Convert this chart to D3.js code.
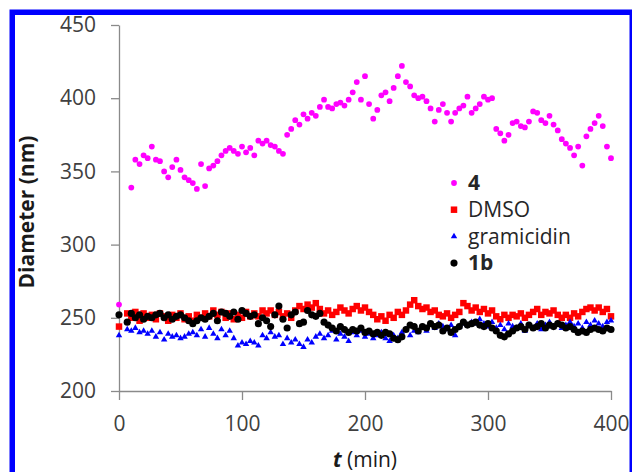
<!DOCTYPE html>
<html>
<head>
<meta charset="utf-8">
<script src="https://cdn.jsdelivr.net/npm/d3@7"></script>
<style>
  body { margin: 0; background: #fff; }
  text { font-family: "Open Sans", sans-serif; }
</style>
</head>
<body>
<div id="host"></div>
<script>
// Sampling times (min)
const minutes = [
  0, 3.3, 6.7, 10, 13.3, 16.7, 20, 23.3, 26.7, 30,
  33.3, 36.7, 40, 43.3, 46.7, 50, 53.3, 56.7, 60, 63.3,
  66.7, 70, 73.3, 76.7, 80, 83.3, 86.7, 90, 93.3, 96.7,
  100, 103.3, 106.7, 110, 113.3, 116.7, 120, 123.3, 126.7, 130,
  133.3, 136.7, 140, 143.3, 146.7, 150, 153.3, 156.7, 160, 163.3,
  166.7, 170, 173.3, 176.7, 180, 183.3, 186.7, 190, 193.3, 196.7,
  200, 203.3, 206.7, 210, 213.3, 216.7, 220, 223.3, 226.7, 230,
  233.3, 236.7, 240, 243.3, 246.7, 250, 253.3, 256.7, 260, 263.3,
  266.7, 270, 273.3, 276.7, 280, 283.3, 286.7, 290, 293.3, 296.7,
  300, 303.3, 306.7, 310, 313.3, 316.7, 320, 323.3, 326.7, 330,
  333.3, 336.7, 340, 343.3, 346.7, 350, 353.3, 356.7, 360, 363.3,
  366.7, 370, 373.3, 376.7, 380, 383.3, 386.7, 390, 393.3, 396.7,
  400
];

// Diameter (nm) for each sample
const compound4 = [
  259, null, null, 339, 358, 355, 361, 359, 367, 358,
  357, 350, 346, 353, 358, 351, 346, 344, 342, 338,
  355, 340, 352, 354, 357, 361, 364, 366, 364, 362,
  367, 363, 366, 361, 371, 369, 371, 368, 367, 364,
  362, 375, 379, 385, 382, 389, 386, 390, 388, 394,
  399, 394, 393, 396, 397, 395, 399, 404, 411, 399,
  415, 396, 386, 392, 402, 404, 398, 407, 415, 422,
  411, 408, 402, 400, 401, 398, 393, 384, 392, 396,
  390, 384, 390, 393, 395, 401, 390, 393, 396, 401,
  399, 400, 379, 376, 371, 375, 383, 384, 381, 380,
  384, 391, 390, 385, 383, 388, 382, 378, 372, 369,
  366, 361, 367, 354, 374, 379, 383, 388, 381, 367,
  359
];

const dmso = [
  244, null, 253, 250, 254, 248, 253, 250, 252, 249,
  253, 251, 248, 252, 250, 253, 249, 251, 248, 252,
  250, 253, 251, 255, 252, 254, 250, 253, 249, 252,
  250, 254, 251, 253, 251, 255, 253, 255, 252, 254,
  251, 253, 250, 255, 258, 256, 259, 257, 260, 256,
  253, 255, 252, 254, 257, 255, 253, 256, 258, 255,
  257, 254, 252, 249, 251, 248, 252, 250, 254, 252,
  255, 259, 262, 258, 256, 257, 254, 255, 252, 251,
  253, 250, 252, 254, 260, 258, 255, 257, 254, 256,
  253, 255, 251, 249, 252, 250, 252, 251, 253, 250,
  252, 254, 256, 252, 254, 253, 255, 252, 250, 252,
  250, 253, 251, 254, 256, 257, 255, 257, 254, 256,
  251
];

const gramicidin = [
  238, null, 242, 241, 243, 240, 241, 239, 241, 237,
  240, 235, 239, 237, 238, 236, 237, 239, 240, 238,
  242, 237, 243, 239, 236, 242, 238, 241, 236, 231,
  233, 232, 234, 233, 231, 238, 236, 240, 237, 238,
  232, 236, 233, 235, 232, 230, 235, 233, 237, 239,
  236, 238, 241, 235, 239, 237, 234, 240, 238, 241,
  237, 239, 236, 238, 240, 236, 234, 238, 236, 240,
  242, 238, 241, 240, 243, 241, 245, 243, 246, 244,
  242, 245, 238, 244, 246, 245, 247, 246, 249, 246,
  244, 247, 243, 245, 242, 246, 244, 243, 246, 241,
  245, 243, 246, 242, 245, 247, 244, 246, 243, 245,
  247, 244, 246, 243, 247, 245, 248, 246, 244, 247,
  248
];

const compound1b = [
  252, null, 247, 253, 250, 252, 249, 251, 250, 252,
  253, 250, 252, 249, 251, 252, 250, 248, 246, 248,
  250, 249, 251, 253, 248, 254, 253, 251, 254, 249,
  255, 253, 251, 252, 246, 250, 248, 244, 252, 258,
  249, 243, 252, 254, 246, 247, 255, 252, 251, 253,
  247, 245, 243, 241, 244, 242, 240, 242, 241, 243,
  240, 241, 239, 240, 238, 240, 239, 236, 235, 237,
  242, 245, 244, 241, 244, 243, 246, 244, 245, 241,
  243, 240, 242, 244, 247, 245, 246, 247, 245, 244,
  246, 243, 241, 238, 237, 239, 241, 243, 244, 242,
  245, 243, 244, 246, 243, 245, 244, 246, 245, 243,
  244, 242, 240, 241, 240, 242, 243, 242, 241, 243,
  242
];

const xTicks = [0, 100, 200, 300, 400];
const yTicks = [200, 250, 300, 350, 400, 450];

const series = [
  { name: "4", values: compound4, color: "#ff00ff", type: d3.symbolCircle, size: 26, bold: true },
  { name: "DMSO", values: dmso, color: "#ff0000", type: d3.symbolSquare, size: 42, bold: false },
  { name: "gramicidin", values: gramicidin, color: "#0000ff", type: d3.symbolTriangle, size: 18, bold: false },
  { name: "1b", values: compound1b, color: "#000000", type: d3.symbolCircle, size: 40, bold: true }
];

const width = 632;
const height = 472;

const svg = d3.select("#host")
  .append("svg")
  .attr("width", width)
  .attr("height", height);

// Blue frame round the figure
svg.append("rect")
  .attr("x", 12.25)
  .attr("y", 12.25)
  .attr("width", 620)
  .attr("height", 480)
  .attr("fill", "none")
  .attr("stroke", "#0000ff")
  .attr("stroke-width", 5.5);

const x = d3.scaleLinear().domain([0, 400]).range([119, 611]);
const y = d3.scaleLinear().domain([200, 450]).range([391, 25]);

// Axes
const yAxis = svg.append("g")
  .attr("transform", "translate(119,0)")
  .call(d3.axisLeft(y).tickValues(yTicks).tickSize(8).tickSizeOuter(0).tickPadding(15));

const xAxis = svg.append("g")
  .attr("transform", "translate(0,391)")
  .call(d3.axisBottom(x).tickValues(xTicks).tickSize(9).tickSizeOuter(0).tickPadding(16));

for (const g of [xAxis, yAxis]) {
  g.select(".domain").attr("stroke", "#8a8a8a").attr("stroke-width", 1.3);
  g.selectAll(".tick line").attr("stroke", "#8a8a8a").attr("stroke-width", 1.3);
  g.selectAll(".tick text")
    .attr("fill", "#404040")
    .style("font-size", "21px")
    .style("font-family", "'Open Sans', sans-serif");
}

// Points, one series after another
for (const s of series) {
  const pts = minutes
    .map((t, i) => ({ t: t, d: s.values[i] }))
    .filter(p => p.d !== null);

  svg.append("g")
    .selectAll("path")
    .data(pts)
    .join("path")
    .attr("d", d3.symbol().type(s.type).size(s.size))
    .attr("fill", s.color)
    .attr("transform", p => `translate(${x(p.t)},${y(p.d)})`);
}

// Axis titles
svg.append("text")
  .attr("transform", "translate(27,212) rotate(-90)")
  .attr("text-anchor", "middle")
  .attr("dy", "0.35em")
  .attr("fill", "#1a1a1a")
  .style("font-size", "21px")
  .style("font-weight", "bold")
  .text("Diameter (nm)");

const xTitle = svg.append("text")
  .attr("x", 365)
  .attr("y", 467)
  .attr("text-anchor", "middle")
  .attr("fill", "#1a1a1a")
  .style("font-size", "21px");
xTitle.append("tspan").style("font-weight", "bold").style("font-style", "italic").text("t");
xTitle.append("tspan").text(" (min)");

// Legend
const legend = svg.append("g").attr("transform", "translate(454,183)");
series.forEach((s, i) => {
  const row = legend.append("g").attr("transform", `translate(0,${i * 26.7})`);
  row.append("path")
    .attr("d", d3.symbol().type(s.type).size(s.size))
    .attr("fill", s.color);
  row.append("text")
    .attr("x", 14)
    .attr("dy", "0.35em")
    .attr("fill", "#262626")
    .style("font-size", "21px")
    .style("font-weight", s.bold ? "bold" : "normal")
    .text(s.name);
});
</script>
</body>
</html>
